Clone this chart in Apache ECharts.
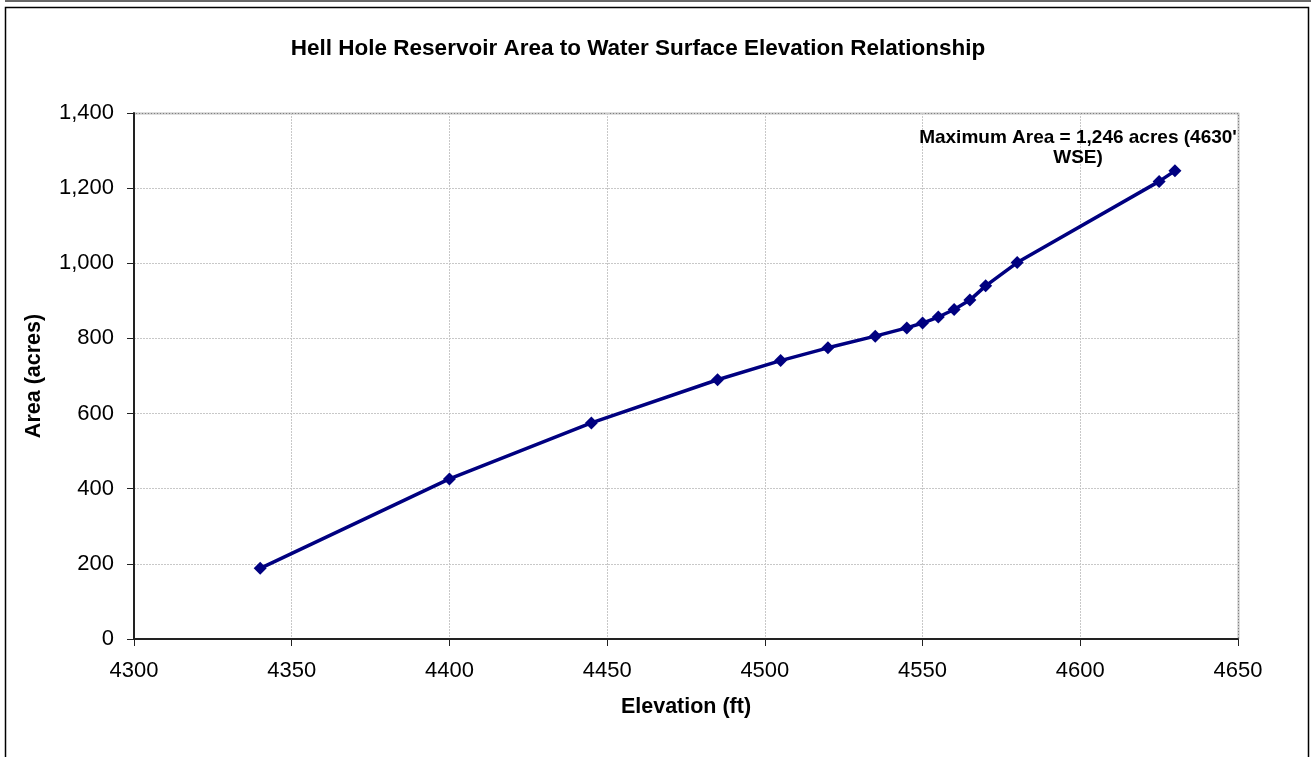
<!DOCTYPE html>
<html>
  <head>
    <meta charset="utf-8" />
    <title>Hell Hole Reservoir</title>
    <script src="https://cdn.jsdelivr.net/npm/echarts@6/dist/echarts.min.js"></script>
  </head>
  <body style="margin: 0">
    <div id="chart" style="width: 1311px; height: 757px"></div>
    <script type="text/javascript">
      // elevation (ft) and area (acres)
      var elevation = [4340, 4400, 4445, 4485, 4505, 4520, 4535, 4545, 4550, 4555, 4560, 4565, 4570, 4580, 4625, 4630];
      var area = [188, 426, 575, 690, 741, 775, 806, 828, 841, 857, 877, 902, 940, 1002, 1218, 1246];
      var xTicks = [4300, 4650, 50];
      var yTicks = [0, 1400, 200];

      var points = [];
      for (var i = 0; i < elevation.length; i++) {
        points.push([elevation[i], area[i]]);
      }

      var chart = echarts.init(document.getElementById("chart"));
      var font = "Liberation Sans, Arial, sans-serif";
      var option = {
        backgroundColor: "#fff",
        animation: false,
        title: [
          {
            text: "Hell Hole Reservoir Area to Water Surface Elevation Relationship",
            left: 633, top: 32, textAlign: "center",
            textStyle: { fontFamily: font, fontSize: 22.5, fontWeight: "bold", color: "#000" },
          },
          {
            text: "Maximum Area = 1,246 acres (4630'\nWSE)",
            left: 1073, top: 123, textAlign: "center",
            textStyle: { fontFamily: font, fontSize: 19, fontWeight: "bold", color: "#000", lineHeight: 20, align: "center" },
          },
        ],
        grid: { left: 134, right: 73, top: 113, bottom: 118 },
        xAxis: {
          type: "value",
          min: xTicks[0], max: xTicks[1], interval: xTicks[2],
          name: "Elevation (ft)", nameLocation: "middle", nameGap: 57,
          nameTextStyle: { fontFamily: font, fontSize: 21.5, fontWeight: "bold", color: "#000" },
          axisLine: { lineStyle: { color: "#222", width: 2 } },
          axisTick: { show: true, length: 7, lineStyle: { color: "#222" } },
          axisLabel: {
            fontFamily: font, fontSize: 22, color: "#000", margin: 21,
            formatter: function (v) { return String(v); },
          },
          splitLine: { show: true, lineStyle: { color: "#c8c8c8", type: [2, 1] } },
        },
        yAxis: {
          type: "value",
          min: yTicks[0], max: yTicks[1], interval: yTicks[2],
          name: "Area (acres)", nameLocation: "middle", nameGap: 89, nameRotate: 90,
          nameTextStyle: { fontFamily: font, fontSize: 21.5, fontWeight: "bold", color: "#000" },
          axisLine: { show: true, lineStyle: { color: "#222", width: 2 } },
          axisTick: { show: true, length: 7, lineStyle: { color: "#222" } },
          axisLabel: {
            fontFamily: font, fontSize: 22, color: "#000", margin: 20,
            formatter: function (v) { return v.toLocaleString("en-US"); },
          },
          splitLine: { show: true, lineStyle: { color: "#c8c8c8", type: [2, 1] } },
        },
        graphic: [
          { type: "rect", shape: { x: 5.5, y: 7.5, width: 1303, height: 760 }, style: { fill: null, stroke: "#000", lineWidth: 1.5 }, silent: true },
          { type: "line", shape: { x1: 5, y1: 1, x2: 1311, y2: 1 }, style: { stroke: "#666", lineWidth: 2 }, silent: true },
          { type: "polyline", shape: { points: [[135, 113.5], [1238.5, 113.5], [1238.5, 639]] }, style: { fill: null, stroke: "#808080", lineWidth: 1.5 }, silent: true },
        ],
        series: [
          {
            type: "line",
            data: points,
            symbol: "diamond",
            symbolSize: 13,
            lineStyle: { color: "#000080", width: 3.5 },
            itemStyle: { color: "#000080" },
          },
        ],
      };
      chart.setOption(option);
    </script>
  </body>
</html>
